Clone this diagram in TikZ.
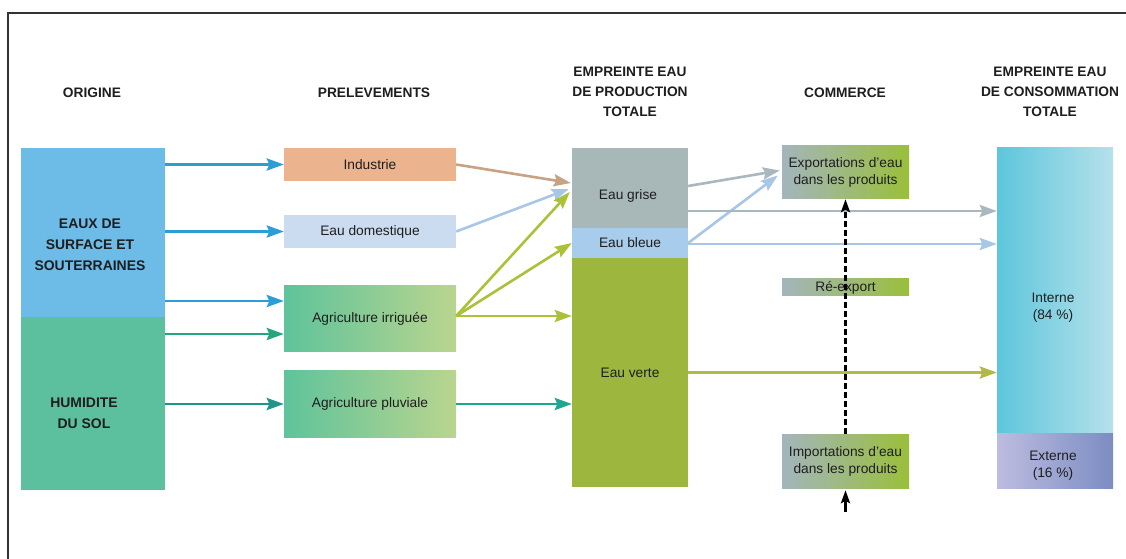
\documentclass[tikz,border=0pt]{standalone}
\usepackage{fontspec}
\setmainfont{Liberation Sans}
\usetikzlibrary{arrows.meta,calc}
\definecolor{origblue}{HTML}{6CBCE7}
\definecolor{origgreen}{HTML}{5CC09E}
\definecolor{indus}{HTML}{EBB48E}
\definecolor{domest}{HTML}{CBDCF0}
\definecolor{agriL}{HTML}{5EC39B}
\definecolor{agriR}{HTML}{BAD58F}
\definecolor{grisec}{HTML}{A8B7B8}
\definecolor{bleuec}{HTML}{A8CCEB}
\definecolor{vertec}{HTML}{9CB63E}
\definecolor{commL}{HTML}{A3B5BD}
\definecolor{commR}{HTML}{9ABF3A}
\definecolor{intL}{HTML}{5DC6DC}
\definecolor{intR}{HTML}{B5E1EB}
\definecolor{extL}{HTML}{BDBCE0}
\definecolor{extR}{HTML}{7C8DC2}
\definecolor{txt}{HTML}{1E1E1E}
\definecolor{aBlue}{HTML}{2B9ED6}
\definecolor{aGreen}{HTML}{22A67F}
\definecolor{aTeal}{HTML}{1F9488}
\definecolor{aTan}{HTML}{C7A385}
\definecolor{aLBlue}{HTML}{A8C6E6}
\definecolor{aYG}{HTML}{AAC23A}
\definecolor{aTeal2}{HTML}{1EA790}
\definecolor{aGrey}{HTML}{A9B8BE}
\definecolor{aOlive}{HTML}{B3B846}
\definecolor{framec}{HTML}{333333}
\begin{document}
\begin{tikzpicture}[x=1bp,y=-1bp,
  bx/.style={rectangle, draw=none, inner sep=0pt},
  title/.style={font=\fontsize{13.8}{20}\selectfont\bfseries, align=center, text=txt},
  btxt/.style={font=\fontsize{14}{21}\selectfont\bfseries, align=center, text=txt},
  lbl/.style={font=\fontsize{13.8}{17}\selectfont, align=center, text=txt},
  arr/.style={line width=2.6bp, -{Stealth[length=17bp,width=12bp,inset=2.5bp]}},
  blackarr/.style={line width=2.6bp, black, -{Stealth[length=13bp,width=9bp,inset=2.5bp]}},
]
\useasboundingbox (0,0) rectangle (1126,559);
\fill[white] (0,0) rectangle (1126,559);
\draw[framec, line width=1.6bp] (8,559) -- (8,13) -- (1126,13);

% titles
\node[title] (t1) at (92,93) {ORIGINE};
\node[title] (t2) at (374,93) {PRELEVEMENTS};
\node[title] (t3) at (630,92) {EMPREINTE EAU\\DE PRODUCTION\\TOTALE};
\node[title] (t4) at (845,93) {COMMERCE};
\node[title] (t5) at (1050,92) {EMPREINTE EAU\\DE CONSOMMATION\\TOTALE};

% origin
\node[bx, fill=origblue, minimum width=144bp, minimum height=169bp] (surf) at (93,232.5) {};
\node[bx, fill=origgreen, minimum width=144bp, minimum height=173bp] (hum) at (93,403.5) {};
\node[btxt] (surft) at (90,245) {EAUX DE\\SURFACE ET\\SOUTERRAINES};
\node[btxt] (humt) at (84,413) {HUMIDITE\\DU SOL};

% prelevements
\node[bx, fill=indus, minimum width=172bp, minimum height=33bp, lbl] (ind) at (370,164.5) {Industrie};
\node[bx, fill=domest, minimum width=172bp, minimum height=33bp, lbl] (dom) at (370,231.5) {Eau domestique};
\node[bx, left color=agriL, right color=agriR, minimum width=172bp, minimum height=66bp, lbl] (agi) at (370,319) {Agriculture irriguée};
\node[bx, left color=agriL, right color=agriR, minimum width=172bp, minimum height=66bp, lbl] (agp) at (370,404) {Agriculture pluviale};

% production
\node[bx, fill=grisec, minimum width=116bp, minimum height=80bp] (grise) at (630,188) {};
\node[lbl] (griset) at (628,196) {Eau grise};
\node[bx, fill=bleuec, minimum width=116bp, minimum height=30bp, lbl] (bleue) at (630,243) {Eau bleue};
\node[bx, fill=vertec, minimum width=116bp, minimum height=229bp, lbl] (verte) at (630,372.5) {Eau verte};

% commerce
\node[bx, left color=commL, right color=commR, minimum width=127bp, minimum height=53bp, lbl] (exp) at (845.5,172.5) {Exportations d'eau\\dans les produits};
\node[bx, left color=commL, right color=commR, minimum width=127bp, minimum height=17bp, lbl] (rex) at (845.5,287.5) {Ré-export};
\node[bx, left color=commL, right color=commR, minimum width=127bp, minimum height=54bp, lbl] (imp) at (845.5,461) {Importations d'eau\\dans les produits};

% consommation
\node[bx, left color=intL, right color=intR, minimum width=116bp, minimum height=285bp] (int) at (1055,290.5) {};
\node[lbl] (intt) at (1053,307.5) {Interne\\(84 \%)};
\node[bx, left color=extL, right color=extR, minimum width=116bp, minimum height=55bp] (ext) at (1055,460.5) {};
\node[lbl] (extt) at (1053,465.5) {Externe\\(16 \%)};

% origin -> prelevements
\draw[arr, aBlue] (surf.east |- ind.west) -- (ind.west);
\draw[arr, aBlue] (surf.east |- dom.west) -- (dom.west);
\coordinate (a1) at ($(agi.west)+(0,-18)$);
\coordinate (a2) at ($(agi.west)+(0,15)$);
\draw[arr, aBlue] (surf.east |- a1) -- (a1);
\draw[arr, aGreen] (hum.east |- a2) -- (a2);
\draw[arr, aTeal] (hum.east |- agp.west) -- (agp.west);

% prelevements -> production
\coordinate (fan) at ($(agi.east)+(0,-3)$);
\draw[arr, aTan] (ind.east) -- ($(grise.west)+(-1,-5)$);
\draw[arr, aLBlue] (dom.east) -- ($(grise.west)+(-3,1)$);
\draw[arr, aYG] (fan) -- ($(grise.west)+(-2,4)$);
\draw[arr, aYG] (fan) -- (bleue.west);
\draw[arr, aYG] (fan) -- (verte.west |- fan);
\draw[arr, aTeal2] (agp.east) -- (verte.west |- agp.east);

% production -> commerce / consommation
\draw[arr, aGrey] ($(grise.east)+(0,-2)$) -- ($(exp.west)+(-2,-2)$);
\draw[arr, aLBlue] (bleue.east) -- ($(exp.west)+(-4,3)$);
\coordinate (g2) at ($(grise.east)+(0,23)$);
\coordinate (b2) at ($(bleue.east)+(0,1)$);
\draw[arr, aGrey] (g2) -- (int.west |- g2);
\draw[arr, aLBlue] (b2) -- (int.west |- b2);
\draw[arr, aOlive] (verte.east) -- (int.west |- verte.east);

% trade dashed flow
\draw[blackarr, dash pattern=on 6bp off 3bp] (imp.north) -- (exp.south);
\coordinate (impin) at ($(imp.south)+(0,24)$);
\draw[blackarr] (impin) -- ($(imp.south)+(0,2)$);
\end{tikzpicture}
\end{document}
